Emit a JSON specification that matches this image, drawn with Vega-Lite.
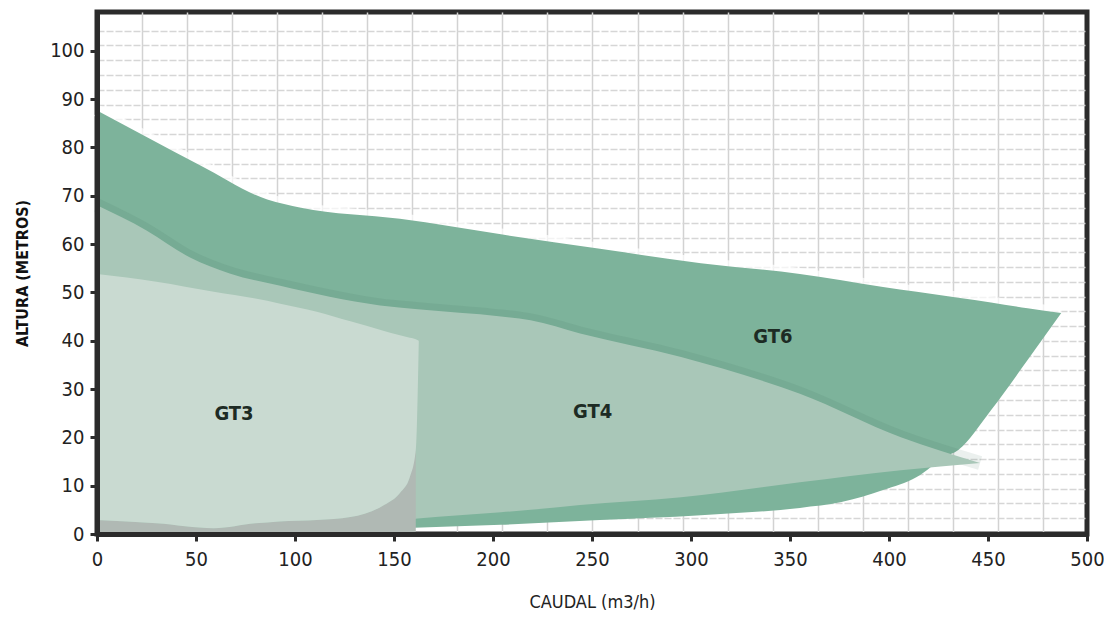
{
  "$schema": "https://vega.github.io/schema/vega-lite/v6.json",
  "width": 990,
  "height": 522,
  "autosize": {"type": "none"},
  "padding": {"left": 97, "top": 12, "right": 17, "bottom": 83},
  "background": "white",
  "config": {
    "view": {"stroke": "#2b2b2b", "strokeWidth": 5},
    "font": "'DejaVu Sans Condensed', 'Liberation Sans Narrow', 'Liberation Sans', sans-serif"
  },
  "datasets": {
    "gt6": [
      {"x": 0, "hi": 87.6, "lo": 0},
      {"x": 52, "hi": 76.3, "lo": 0.2},
      {"x": 86, "hi": 69.2, "lo": 0.4},
      {"x": 103, "hi": 67.5, "lo": 0.6},
      {"x": 153, "hi": 65.2, "lo": 1.2},
      {"x": 204, "hi": 62, "lo": 1.9},
      {"x": 254, "hi": 59, "lo": 2.9},
      {"x": 305, "hi": 56, "lo": 3.9},
      {"x": 355, "hi": 53.8, "lo": 5.4},
      {"x": 376, "hi": 52.5, "lo": 6.6},
      {"x": 397, "hi": 51.1, "lo": 9.1},
      {"x": 414, "hi": 50.1, "lo": 11.8},
      {"x": 428, "hi": 49.3, "lo": 15.9},
      {"x": 435, "hi": 48.9, "lo": 17.4},
      {"x": 451.5, "hi": 47.9, "lo": 25.6},
      {"x": 470, "hi": 46.7, "lo": 36},
      {"x": 487, "hi": 45.7, "lo": 45.7}
    ],
    "gt4": [
      {"x": 0, "hi": 68, "lo": 0.3},
      {"x": 25, "hi": 62.8, "lo": 0.5},
      {"x": 47, "hi": 57.2, "lo": 0.7},
      {"x": 67, "hi": 53.9, "lo": 0.9},
      {"x": 92, "hi": 51.4, "lo": 1.3},
      {"x": 143, "hi": 47.3, "lo": 2.4},
      {"x": 162, "hi": 46.5, "lo": 3.2},
      {"x": 204, "hi": 45, "lo": 4.5},
      {"x": 219, "hi": 44.2, "lo": 5},
      {"x": 244, "hi": 41.5, "lo": 6},
      {"x": 295, "hi": 36.6, "lo": 7.6},
      {"x": 355, "hi": 29, "lo": 10.7},
      {"x": 406, "hi": 20, "lo": 13.2},
      {"x": 446, "hi": 14.7, "lo": 14.7}
    ],
    "gt3": [
      {"x": 0, "hi": 53.8, "lo": 2.9},
      {"x": 30, "hi": 52.2, "lo": 2.2},
      {"x": 59, "hi": 50.1, "lo": 1.2},
      {"x": 80, "hi": 48.7, "lo": 2.2},
      {"x": 92, "hi": 47.7, "lo": 2.6},
      {"x": 111, "hi": 46, "lo": 2.9},
      {"x": 128, "hi": 44, "lo": 3.5},
      {"x": 145, "hi": 42, "lo": 6},
      {"x": 153, "hi": 41.1, "lo": 8.5},
      {"x": 158, "hi": 40.6, "lo": 11.8},
      {"x": 161, "hi": 40.3, "lo": 17.4},
      {"x": 162.5, "hi": 40, "lo": 39.5}
    ],
    "labels": [
      {"label": "GT3", "x": 69.2, "y": 24.8},
      {"label": "GT4", "x": 250.3, "y": 25.3},
      {"label": "GT6", "x": 341.4, "y": 40.8}
    ]
  },
  "layer": [
    {
      "data": {"name": "gt6"},
      "mark": {"type": "line", "color": "white", "strokeWidth": 12, "opacity": 0.7, "interpolate": "monotone"},
      "encoding": {
        "x": {"field": "x", "type": "quantitative", "scale": {"domain": [0, 500], "nice": false},
          "axis": {"orient": "bottom", "values": [22.75, 45.5, 68.25, 91, 113.75, 136.5, 159.25, 182, 204.75, 227.5, 250.25, 273, 295.75, 318.5, 341.25, 364, 386.75, 409.5, 432.25, 455, 477.75],
            "grid": true, "gridColor": "#d2d2d2", "gridWidth": 1.5, "labels": false, "ticks": false, "domain": false, "title": null, "zindex": 0}},
        "y": {"field": "hi", "type": "quantitative", "scale": {"domain": [0, 108], "nice": false},
          "axis": {"orient": "left", "values": [3.3, 6.35, 9.4, 12.5, 15.5, 18.6, 21.6, 24.7, 27.7, 30.8, 33.9, 36.9, 40, 43, 46.1, 49.1, 52.2, 55.2, 58.3, 61.3, 64.4, 67.5, 70.5, 73.6, 76.6, 79.7, 82.7, 85.8, 88.8, 91.9, 95, 98, 101.1, 104.1],
            "grid": true, "gridColor": "#d6d6d6", "gridWidth": 1.5, "gridDash": [7, 2], "labels": false, "ticks": false, "domain": false, "title": null, "zindex": 0}}
      }
    },
    {
      "data": {"name": "gt6"},
      "mark": {"type": "area", "color": "#7db39b", "interpolate": "monotone"},
      "encoding": {
        "x": {"field": "x", "type": "quantitative", "axis": null},
        "y": {"field": "hi", "type": "quantitative", "axis": null},
        "y2": {"field": "lo"}
      }
    },
    {
      "data": {"name": "gt4"},
      "mark": {"type": "line", "color": "#3f6f5a", "strokeWidth": 14, "opacity": 0.1, "interpolate": "monotone"},
      "encoding": {
        "x": {"field": "x", "type": "quantitative", "axis": null},
        "y": {"field": "hi", "type": "quantitative", "axis": null}
      }
    },
    {
      "data": {"name": "gt4"},
      "mark": {"type": "area", "color": "#a9c7b8", "interpolate": "monotone"},
      "encoding": {
        "x": {"field": "x", "type": "quantitative", "axis": null},
        "y": {"field": "hi", "type": "quantitative", "axis": null},
        "y2": {"field": "lo"}
      }
    },
    {
      "data": {"name": "gt3"},
      "transform": [{"filter": "datum.x <= 161"}],
      "mark": {"type": "area", "color": "#b0b9b4", "interpolate": "monotone"},
      "encoding": {
        "x": {"field": "x", "type": "quantitative", "axis": null},
        "y": {"field": "lo", "type": "quantitative", "axis": null},
        "y2": {"datum": 0}
      }
    },
    {
      "data": {"name": "gt3"},
      "mark": {"type": "area", "color": "#c9dad1", "interpolate": "monotone"},
      "encoding": {
        "x": {"field": "x", "type": "quantitative", "axis": null},
        "y": {"field": "hi", "type": "quantitative", "axis": null},
        "y2": {"field": "lo"}
      }
    },
    {
      "data": {"name": "labels"},
      "mark": {"type": "text", "fontSize": 20, "fontWeight": "bold", "color": "#1d2b24"},
      "encoding": {
        "x": {"field": "x", "type": "quantitative",
          "axis": {"orient": "bottom", "values": [0, 50, 100, 150, 200, 250, 300, 350, 400, 450, 500], "grid": false, "zindex": 1,
            "domainColor": "#2b2b2b", "domainWidth": 5, "tickColor": "#2b2b2b", "tickWidth": 3, "tickSize": 7,
            "labelFontSize": 20, "labelColor": "#222", "labelPadding": 8, "labelFlush": false,
            "title": "CAUDAL (m3/h)", "titleFontSize": 18, "titleFontWeight": "normal", "titleColor": "#222", "titlePadding": 24}},
        "y": {"field": "y", "type": "quantitative",
          "axis": {"orient": "left", "values": [0, 10, 20, 30, 40, 50, 60, 70, 80, 90, 100], "grid": false, "zindex": 1,
            "domainColor": "#2b2b2b", "domainWidth": 5, "tickColor": "#2b2b2b", "tickWidth": 3, "tickSize": 7,
            "labelFontSize": 20, "labelColor": "#222", "labelPadding": 6,
            "title": "ALTURA (METROS)", "titleFontSize": 16, "titleFontWeight": "bold", "titleColor": "#111", "titlePadding": 19}},
        "text": {"field": "label"}
      }
    }
  ],
  "resolve": {"axis": {"x": "independent", "y": "independent"}}
}
